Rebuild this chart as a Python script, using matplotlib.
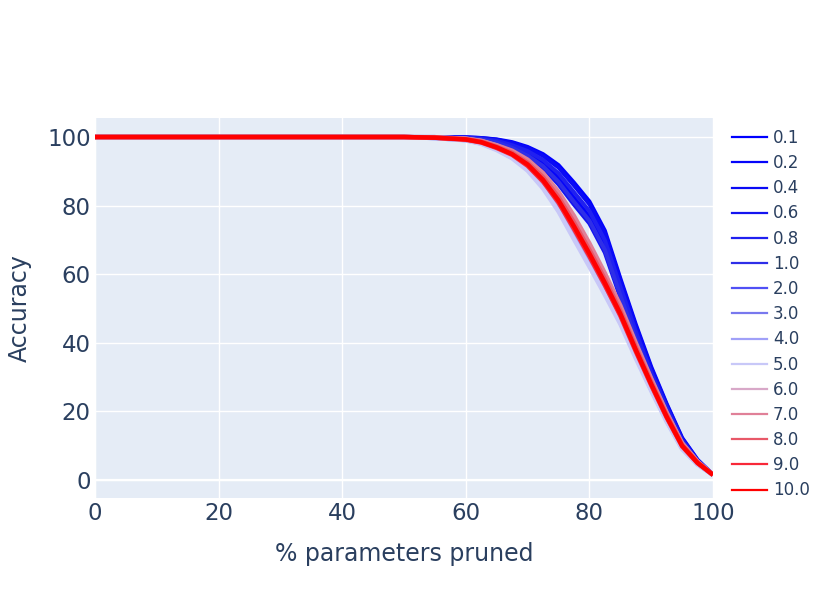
import matplotlib
matplotlib.use("Agg")
import matplotlib.pyplot as plt
from matplotlib.lines import Line2D

# ---- data ----
x_pruned = [0, 50, 55, 60, 62.5, 65, 67.5, 70, 72.5, 75, 77.5, 80, 82.5, 85, 87.5, 90, 92.5, 95, 97.5, 100]

series_labels = ["0.1", "0.2", "0.4", "0.6", "0.8", "1.0", "2.0", "3.0", "4.0", "5.0",
                 "6.0", "7.0", "8.0", "9.0", "10.0"]

acc_0_1 = [100, 100, 100, 99.9, 99.7, 99.3, 98.5, 97.1, 95, 91.8, 86.7, 81.2, 72.7, 58.8, 45.4, 33, 22.2, 12.3, 5.9, 1.5]
acc_0_2 = [100, 100, 100, 99.8, 99.4, 98.6, 97.1, 95.2, 92.3, 88, 82.3, 76.8, 68.3, 55, 42.1, 30.3, 20.6, 11.2, 5.4, 1.5]
acc_0_4 = [100, 100, 100, 99.9, 99.7, 99.2, 98.2, 96.8, 94.5, 91.1, 85.9, 80.4, 71.9, 58.1, 44.8, 32.5, 21.9, 12.1, 5.8, 1.5]
acc_0_6 = [100, 100, 100, 99.7, 99.3, 98.3, 96.5, 94.3, 91, 86.2, 80.3, 74.8, 66.3, 53.2, 40.6, 29, 19.8, 10.7, 5.1, 1.5]
acc_0_8 = [100, 100, 100, 99.8, 99.5, 98.9, 97.6, 95.9, 93.3, 89.4, 83.9, 78.4, 69.9, 56.4, 43.3, 31.3, 21.2, 11.6, 5.6, 1.5]
acc_1_0 = [100, 100, 100, 99.7, 99.3, 98.4, 96.8, 94.6, 91.5, 86.9, 81.1, 75.6, 67.1, 53.9, 41.2, 29.5, 20.1, 10.9, 5.2, 1.5]
acc_2_0 = [100, 100, 99.8, 99.2, 98.3, 96.7, 94.5, 91.3, 86.5, 80.2, 72.5, 64.5, 56.1, 47.3, 37, 27.2, 17.9, 9.6, 4.8, 1.5]
acc_3_0 = [100, 100, 99.7, 99.1, 98.2, 96.5, 94.3, 90.9, 86, 79.6, 71.7, 63.7, 55.4, 46.7, 36.5, 26.8, 17.6, 9.4, 4.7, 1.5]
acc_4_0 = [100, 100, 99.7, 99.1, 98.1, 96.4, 94.0, 90.6, 85.5, 78.9, 71, 63, 54.7, 46.1, 36, 26.4, 17.3, 9.2, 4.6, 1.5]
acc_5_0 = [100, 100, 99.7, 99.0, 98.0, 96.2, 93.8, 90.2, 85, 78.3, 70.2, 62.2, 54, 45.5, 35.5, 26, 17, 9, 4.5, 1.5]
acc_6_0 = [100, 100, 99.9, 99.5, 98.8, 97.5, 95.7, 93.1, 89, 83.4, 76.3, 68.3, 59.6, 50.3, 39.5, 29.2, 19.4, 10.6, 5.3, 1.5]
acc_7_0 = [100, 100, 99.9, 99.5, 98.9, 97.6, 96, 93.4, 89.5, 84, 77, 69, 60.3, 50.9, 40, 29.6, 19.7, 10.8, 5.4, 1.5]
acc_8_0 = [100, 100, 99.8, 99.4, 98.7, 97.2, 95.4, 92.5, 88.3, 82.5, 75.1, 67.1, 58.6, 49.4, 38.8, 28.6, 19, 10.3, 5.2, 1.5]
acc_9_0 = [100, 100, 99.8, 99.2, 98.4, 96.8, 94.8, 91.6, 87, 80.9, 73.2, 65.2, 56.8, 47.9, 37.5, 27.6, 18.2, 9.8, 4.9, 1.5]
acc_10_0 = [100, 100, 99.8, 99.3, 98.5, 97, 95, 92, 87.5, 81.5, 74, 66, 57.5, 48.5, 38, 28, 18.5, 10, 5, 1.5]

series_values = [acc_0_1, acc_0_2, acc_0_4, acc_0_6, acc_0_8, acc_1_0, acc_2_0, acc_3_0,
                 acc_4_0, acc_5_0, acc_6_0, acc_7_0, acc_8_0, acc_9_0, acc_10_0]

series_colors = ["#0000ff", "#0505fa", "#0a0af5", "#1414f0", "#2020f0", "#2e2ee8",
                 "#5050f5", "#7878ee", "#a0a0f8", "#c8c8f8", "#d8a8c8", "#e08098",
                 "#e85868", "#f82838", "#ff0000"]

x_ticks = [0, 20, 40, 60, 80, 100]
y_ticks = [0, 20, 40, 60, 80, 100]

# ---- figure ----
TXT = "#2a3f5f"
plt.rcParams["font.family"] = ["DejaVu Sans"]

fig = plt.figure(figsize=(8.31, 5.93), dpi=100)
ax = fig.add_axes([95 / 831, 1 - 498 / 593, (713 - 95) / 831, (498 - 118) / 593])
ax.set_facecolor("#E5ECF6")
for s in ax.spines.values():
    s.set_visible(False)

ax.set_xlim(0, 100)
ax.set_ylim(-5.25, 105.54)
ax.set_xticks(x_ticks)
ax.set_yticks(y_ticks)
ax.tick_params(length=0, labelsize=16.5, colors=TXT, pad=3)
ax.grid(True, color="white", linewidth=1.0)
ax.set_axisbelow(True)
ax.axhline(0, color="white", linewidth=1.6, zorder=0.5)
ax.axvline(0, color="white", linewidth=1.6, zorder=0.5)

handles = []
for i, (lab, vals, col) in enumerate(zip(series_labels, series_values, series_colors)):
    lw = 2.9 if i < 6 else 3.2
    ax.plot(x_pruned, vals, color=col, linewidth=lw, solid_capstyle="butt",
            solid_joinstyle="round", zorder=2)
    handles.append(Line2D([0], [0], color=col, linewidth=1.6))

ax.set_xlabel("% parameters pruned", fontsize=17, color=TXT, labelpad=12)
ax.set_ylabel("Accuracy", fontsize=17, color=TXT, labelpad=11)

fig.legend(handles, series_labels, loc="upper left",
           bbox_to_anchor=(732 / 831, 1 - 129 / 593), frameon=False,
           fontsize=12, labelcolor=TXT, handlelength=2.1, handletextpad=0.35,
           labelspacing=0.43, borderaxespad=0, borderpad=0)

fig.savefig("out.png", dpi=100)
